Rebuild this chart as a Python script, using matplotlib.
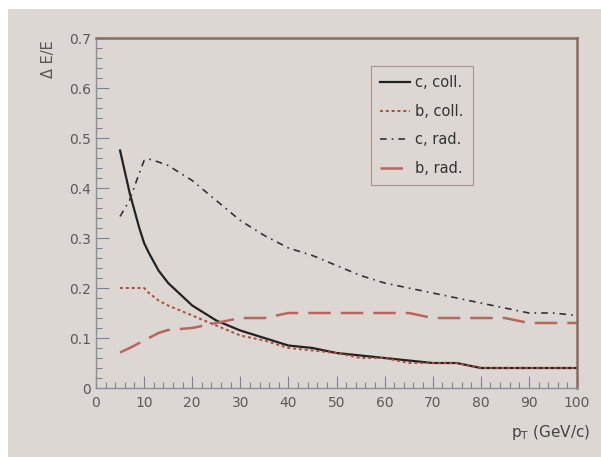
import matplotlib
matplotlib.use("Agg")
import matplotlib.pyplot as plt
from matplotlib.patches import Rectangle
from matplotlib.ticker import MultipleLocator

pt = [5, 7, 9, 10, 11, 13, 15, 20, 25, 30, 35, 40, 45, 50, 55, 60, 65, 70, 75, 80, 85, 90, 95, 100]
c_coll = [0.475, 0.39, 0.32, 0.29, 0.27, 0.235, 0.21, 0.165, 0.135, 0.115, 0.10, 0.085, 0.08, 0.07,
          0.065, 0.06, 0.055, 0.05, 0.05, 0.04, 0.04, 0.04, 0.04, 0.04]
b_coll = [0.20, 0.20, 0.20, 0.20, 0.19, 0.175, 0.165, 0.145, 0.125, 0.105, 0.095, 0.08, 0.075, 0.07,
          0.06, 0.06, 0.05, 0.05, 0.05, 0.04, 0.04, 0.04, 0.04, 0.04]
c_rad = [0.343, 0.376, 0.43, 0.455, 0.458, 0.452, 0.445, 0.415, 0.375, 0.335, 0.305, 0.28, 0.265, 0.245,
         0.225, 0.21, 0.20, 0.19, 0.18, 0.17, 0.16, 0.15, 0.15, 0.145]
b_rad = [0.071, 0.08, 0.09, 0.096, 0.10, 0.11, 0.116, 0.12, 0.13, 0.14, 0.14, 0.15, 0.15, 0.15,
         0.15, 0.15, 0.15, 0.14, 0.14, 0.14, 0.14, 0.13, 0.13, 0.13]

fig = plt.figure(figsize=(6.01, 4.57), dpi=100)
fig.patch.set_facecolor("white")
bg = "#dcd7d3"
# grey panel, white strip on the left and top
fig.patches.append(Rectangle((8 / 601, 0), 593 / 601, 448 / 457, transform=fig.transFigure,
                             facecolor=bg, edgecolor="none", zorder=-10))

ax = fig.add_axes([96 / 601, 69 / 457, 481 / 601, 350 / 457])
ax.set_facecolor(bg)

ax.plot(pt, c_coll, color="#222222", lw=1.6, label="c, coll.")
ax.plot(pt, b_coll, color="#b04a3c", lw=1.4, ls=(0, (1.5, 1.5)), label="b, coll.")
ax.plot(pt, c_rad, color="#333333", lw=1.2, ls=(0, (4, 3, 1, 3)), label="c, rad.")
ax.plot(pt, b_rad, color="#b8675a", lw=1.8, ls=(0, (9, 4)), label="b, rad.")

ax.set_xlim(0, 100)
ax.set_ylim(0, 0.7)
ax.xaxis.set_major_locator(MultipleLocator(10))
ax.xaxis.set_minor_locator(MultipleLocator(2))
ax.yaxis.set_major_locator(MultipleLocator(0.1))
ax.yaxis.set_minor_locator(MultipleLocator(0.02))
ax.yaxis.set_major_formatter(plt.FuncFormatter(lambda v, p: "0" if abs(v) < 1e-9 else f"{v:.1f}"))
ax.tick_params(which="both", direction="in", top=False, right=False, colors="#7a8296",
               labelcolor="#5a5a5a", labelsize=10)
ax.tick_params(which="major", length=9, width=0.8)
ax.tick_params(which="minor", length=4, width=0.8)
ax.tick_params(axis="x", pad=6)

for side in ["left", "bottom"]:
    ax.spines[side].set_color("#8a8fa0")
    ax.spines[side].set_linewidth(1.0)
for side in ["top", "right"]:
    ax.spines[side].set_color("#8c6a60")
    ax.spines[side].set_linewidth(1.8)

leg = ax.legend(loc="upper left", bbox_to_anchor=((371 - 96) / 481, (388 - 66) / 350),
                borderaxespad=0, frameon=True, fontsize=10.5, handlelength=2.1, borderpad=0.6,
                labelspacing=0.95, handletextpad=0.35, fancybox=False)
leg.get_frame().set_facecolor(bg)
leg.get_frame().set_edgecolor("#a08080")
leg.get_frame().set_linewidth(0.8)
for t in leg.get_texts():
    t.set_color("#333333")

fig.text(48 / 601, 1 - 40 / 457, "Δ E/E", rotation=90, ha="center", va="top", fontsize=10.5, color="#555555")
fig.text(590 / 601, 1 - 432 / 457, r"p$_{\mathrm{T}}$ (GeV/c)", ha="right", va="center", fontsize=11,
         color="#444444")

fig.savefig("out.png", dpi=100, facecolor=fig.get_facecolor())
